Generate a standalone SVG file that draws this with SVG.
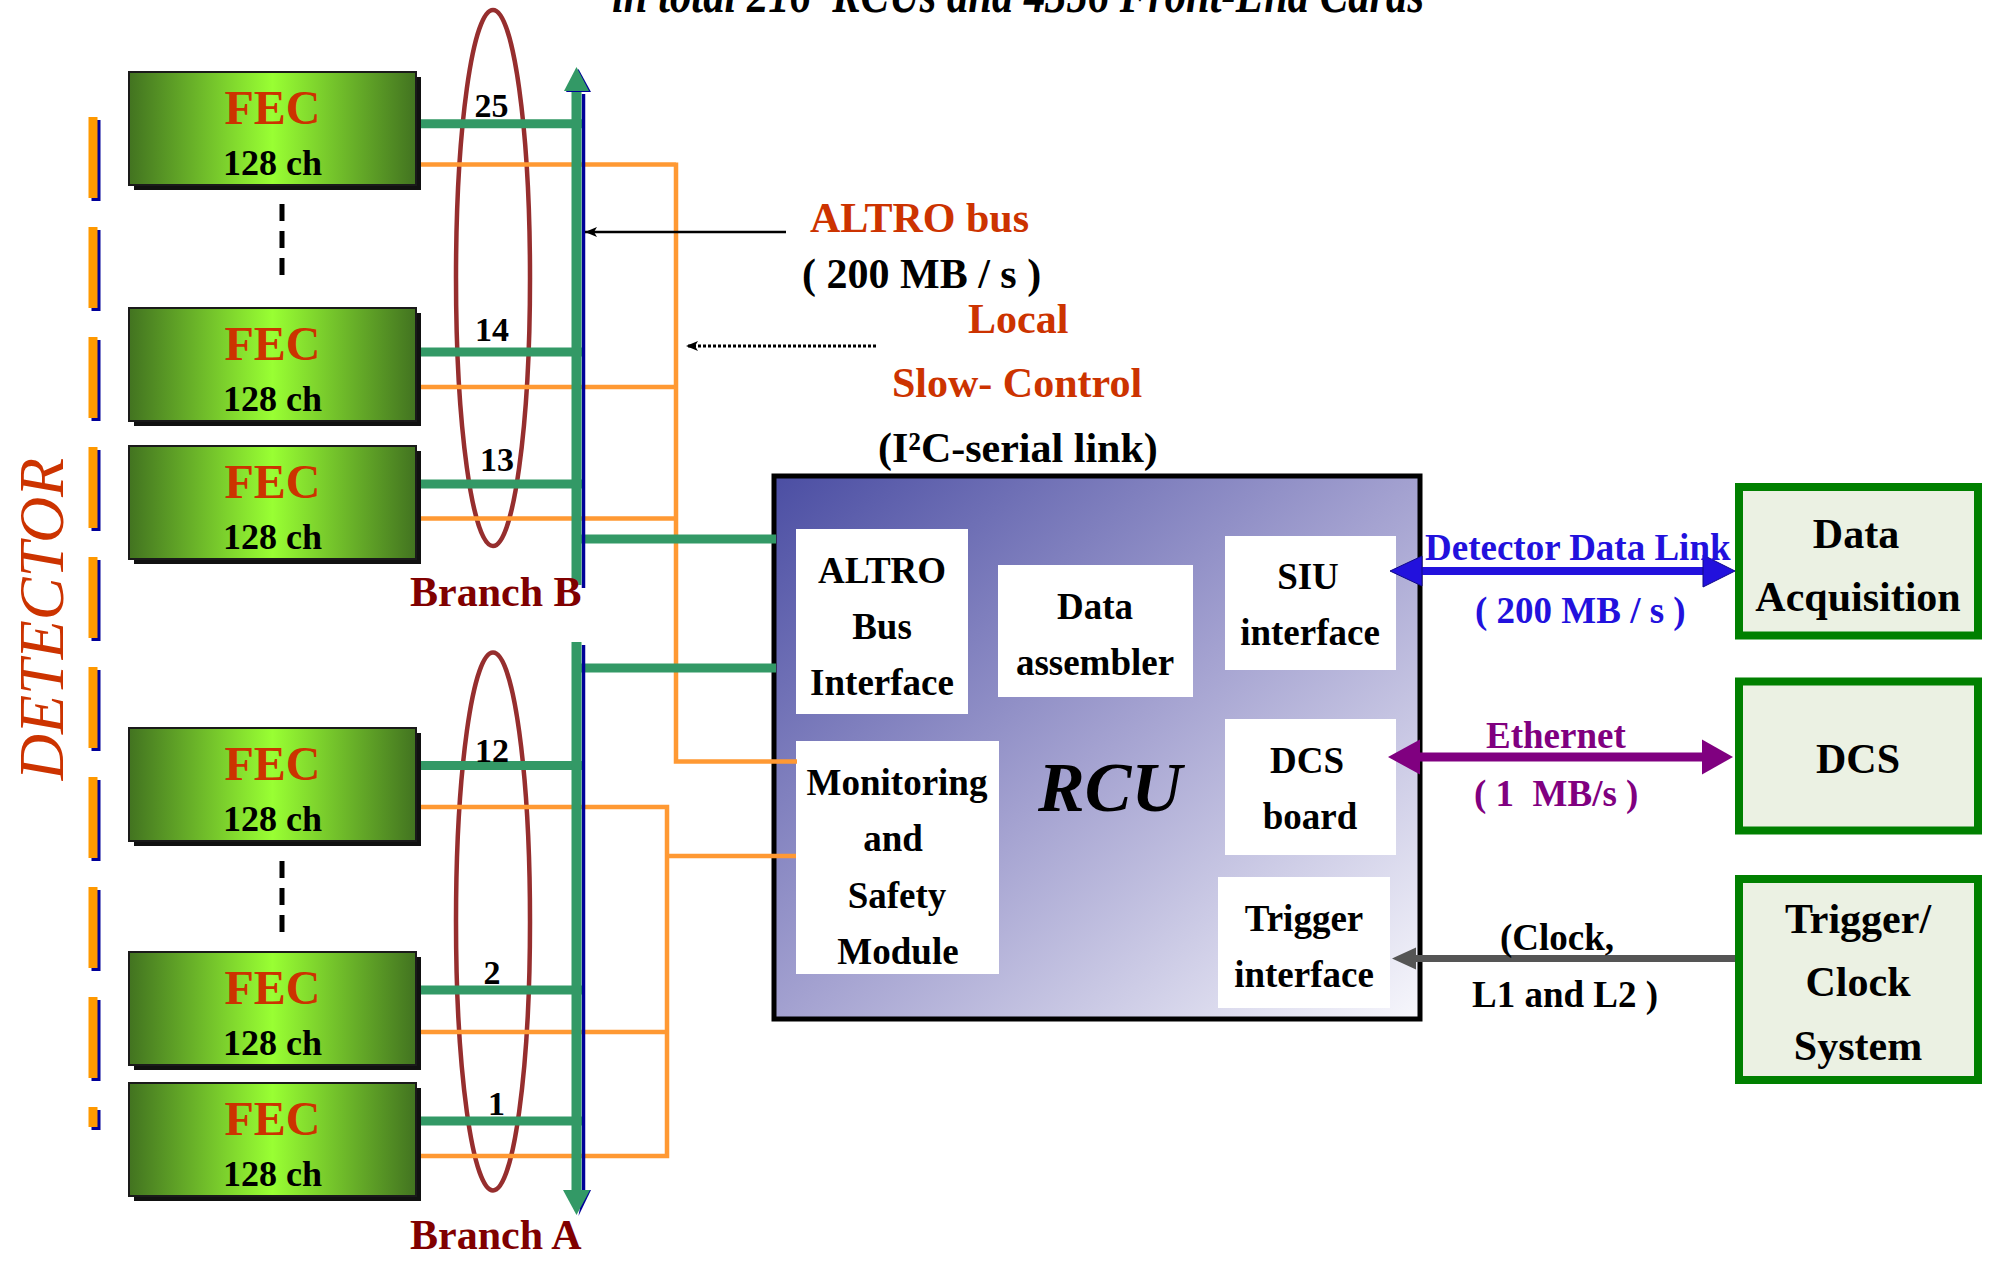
<svg xmlns="http://www.w3.org/2000/svg" width="2000" height="1263" viewBox="0 0 2000 1263">
<defs>
  <linearGradient id="fecGrad" x1="0" y1="0" x2="1" y2="0">
    <stop offset="0" stop-color="#427320"/>
    <stop offset="0.5" stop-color="#99FF33"/>
    <stop offset="1" stop-color="#427320"/>
  </linearGradient>
  <linearGradient id="rcuGrad" x1="0" y1="0" x2="1" y2="1">
    <stop offset="0" stop-color="#4B4EA3"/>
    <stop offset="0.5" stop-color="#A3A1D0"/>
    <stop offset="1" stop-color="#F7F7FC"/>
  </linearGradient>
  <marker id="ahBlack" viewBox="0 0 12 10" refX="12" refY="5" markerWidth="13" markerHeight="10" markerUnits="userSpaceOnUse" orient="auto">
    <path d="M0,0 L12,5 L0,10 L3,5 z" fill="#000"/>
  </marker>
  <style>
    text { font-family: "Liberation Serif", "Times New Roman", serif; font-weight: bold; }
    .fec-shadow { fill: #111; }
    .fec-box { fill: url(#fecGrad); stroke: #1a1a1a; stroke-width: 2; }
    .t-fec { font-size: 48px; fill: #CC3300; text-anchor: middle; }
    .t-ch { font-size: 36px; fill: #000; text-anchor: middle; }
    .inner { fill: #FFFFFF; }
    .t-in { font-size: 37px; fill: #000; text-anchor: middle; }
    .sys { fill: #EBF1E3; stroke: #008000; stroke-width: 8; }
    .t-sys { font-size: 42px; fill: #000; text-anchor: middle; }
    .det-o { fill: #FF9900; }
    .det-b { fill: #000099; }
    .ell { fill: none; stroke: #962E2E; stroke-width: 4.5; }
    .g-line { stroke: #339966; stroke-width: 9; fill: none; }
    .o-line { stroke: #FF9933; stroke-width: 4.5; fill: none; }
    .bus-b { stroke: #000099; stroke-width: 3.5; fill: none; }
    .bus-g { stroke: #339966; stroke-width: 10; fill: none; }
    .num { font-size: 34px; fill: #000; text-anchor: middle; }
    .branch { font-size: 42px; fill: #800000; }
    .lbl-red { font-size: 42px; fill: #CC3300; }
    .lbl-blk { font-size: 42px; fill: #000; }
    .lbl37 { font-size: 37px; white-space: pre; }
  </style>
</defs>

<rect x="0" y="0" width="2000" height="1263" fill="#FFFFFF"/>

<!-- title (cut off at the top) -->
<text x="612" y="12" font-size="52" font-style="italic" textLength="812" lengthAdjust="spacingAndGlyphs" style="white-space:pre" fill="#000">in total 216  RCUs and 4356 Front-End Cards</text>

<!-- DETECTOR label and side marks -->
<g id="detector">
  <text x="63" y="619" font-size="64" font-style="italic" font-weight="normal" fill="#CC3300" text-anchor="middle" transform="rotate(-90 63 619)" style="font-weight:normal">DETECTOR</text>
  <g>
    <rect class="det-b" x="91.5" y="120" width="9" height="81"/><rect class="det-o" x="88.5" y="117" width="9" height="81"/>
    <rect class="det-b" x="91.5" y="230" width="9" height="81"/><rect class="det-o" x="88.5" y="227" width="9" height="81"/>
    <rect class="det-b" x="91.5" y="340" width="9" height="81"/><rect class="det-o" x="88.5" y="337" width="9" height="81"/>
    <rect class="det-b" x="91.5" y="450" width="9" height="81"/><rect class="det-o" x="88.5" y="447" width="9" height="81"/>
    <rect class="det-b" x="91.5" y="560" width="9" height="81"/><rect class="det-o" x="88.5" y="557" width="9" height="81"/>
    <rect class="det-b" x="91.5" y="670" width="9" height="81"/><rect class="det-o" x="88.5" y="667" width="9" height="81"/>
    <rect class="det-b" x="91.5" y="780" width="9" height="81"/><rect class="det-o" x="88.5" y="777" width="9" height="81"/>
    <rect class="det-b" x="91.5" y="890" width="9" height="81"/><rect class="det-o" x="88.5" y="887" width="9" height="81"/>
    <rect class="det-b" x="91.5" y="1000" width="9" height="81"/><rect class="det-o" x="88.5" y="997" width="9" height="81"/>
    <rect class="det-b" x="91.5" y="1110" width="9" height="20"/><rect class="det-o" x="88.5" y="1107" width="9" height="20"/>
  </g>
</g>

<!-- ellipses grouping the FEC links -->
<g id="branch-b-group">
  <ellipse class="ell" cx="493" cy="278" rx="37" ry="268"/>
</g>
<g id="branch-a-group">
  <ellipse class="ell" cx="493" cy="921.5" rx="37" ry="269"/>
</g>

<!-- RCU -->
<g id="rcu">
  <rect x="774" y="476" width="646" height="543" fill="url(#rcuGrad)" stroke="#000" stroke-width="5"/>
  <text x="1110" y="811" font-size="70" font-style="italic" fill="#000" text-anchor="middle">RCU</text>
</g>
<g id="altro-bus-interface">
  <rect class="inner" x="796" y="529" width="172" height="185"/>
  <text class="t-in" x="882" y="583">ALTRO</text>
  <text class="t-in" x="882" y="639">Bus</text>
  <text class="t-in" x="882" y="695">Interface</text>
</g>
<g id="data-assembler">
  <rect class="inner" x="998" y="565" width="195" height="132"/>
  <text class="t-in" x="1095" y="619">Data</text>
  <text class="t-in" x="1095" y="675">assembler</text>
</g>
<g id="siu-interface">
  <rect class="inner" x="1225" y="536" width="171" height="134"/>
  <text class="t-in" x="1308" y="589">SIU</text>
  <text class="t-in" x="1310" y="645">interface</text>
</g>
<g id="monitoring-safety">
  <rect class="inner" x="796" y="741" width="203" height="233"/>
  <text class="t-in" x="897" y="795">Monitoring</text>
  <text class="t-in" x="893" y="851">and</text>
  <text class="t-in" x="897" y="908">Safety</text>
  <text class="t-in" x="898" y="964">Module</text>
</g>
<g id="dcs-board">
  <rect class="inner" x="1225" y="719" width="171" height="136"/>
  <text class="t-in" x="1307" y="773">DCS</text>
  <text class="t-in" x="1310" y="829">board</text>
</g>
<g id="trigger-interface">
  <rect class="inner" x="1218" y="877" width="172" height="131"/>
  <text class="t-in" x="1304" y="931">Trigger</text>
  <text class="t-in" x="1304" y="987">interface</text>
</g>

<!-- connectors -->
<g id="connectors">
  <!-- orange slow-control lines, branch B -->
  <path class="o-line" d="M416,164.6 H676 M416,387 H676 M416,518.5 H676 M676,162.4 V761.5 H797"/>
  <!-- orange slow-control lines, branch A -->
  <path class="o-line" d="M416,807 H667 M416,1032 H667 M416,1156 H667 M667,804.8 V1158.2 M667,856 H796"/>
  <!-- green FEC links -->
  <path class="g-line" d="M416,123.8 H583 M416,352 H583 M416,484 H583 M416,765.6 H583 M416,990 H583 M416,1121 H583"/>
  <!-- green bus to RCU -->
  <path class="g-line" d="M581,539 H776 M581,668 H776"/>
  <!-- branch B bus (arrow up) -->
  <line class="bus-b" x1="583.5" y1="94" x2="583.5" y2="588"/>
  <line class="bus-g" x1="576.5" y1="89" x2="576.5" y2="585"/>
  <polygon points="566,92 578.5,69 591,92" fill="#000099"/>
  <polygon points="564,91 576.5,67 589,91" fill="#339966"/>
  <!-- branch A bus (arrow down) -->
  <line class="bus-b" x1="583.5" y1="645" x2="583.5" y2="1192"/>
  <line class="bus-g" x1="576.5" y1="642" x2="576.5" y2="1192"/>
  <polygon points="591,1190 578.5,1216 583,1190" fill="#000099"/>
  <polygon points="563,1190 576.5,1215 590,1190" fill="#339966"/>
  <!-- ALTRO bus pointer -->
  <line x1="786" y1="232" x2="585" y2="232" stroke="#000" stroke-width="2.5" marker-end="url(#ahBlack)"/>
  <!-- slow-control pointer -->
  <line x1="876" y1="346" x2="686" y2="346" stroke="#000" stroke-width="3" stroke-dasharray="3 2" marker-end="url(#ahBlack)"/>
  <!-- Detector Data Link -->
  <line x1="1420" y1="571" x2="1705" y2="571" stroke="#2211DD" stroke-width="8"/>
  <polygon points="1390,571 1422,556 1422,586" fill="#2211DD" stroke="#100888" stroke-width="1"/>
  <polygon points="1735,571 1703,555 1703,587" fill="#2211DD" stroke="#100888" stroke-width="1"/>
  <!-- Ethernet -->
  <line x1="1418" y1="757" x2="1704" y2="757" stroke="#800080" stroke-width="9"/>
  <polygon points="1388,757 1420,739.5 1420,774.5" fill="#800080"/>
  <polygon points="1733,757 1702,739.5 1702,774.5" fill="#800080"/>
  <!-- Clock / triggers -->
  <line x1="1735" y1="958.5" x2="1414" y2="958.5" stroke="#555555" stroke-width="7"/>
  <polygon points="1392,958.5 1416,947.5 1416,969.5" fill="#555555"/>
</g>

<!-- FEC cards -->
<g id="fec-25">
  <rect class="fec-shadow" x="134" y="77" width="287" height="113"/>
  <rect class="fec-box" x="129" y="72" width="287" height="113"/>
  <text class="t-fec" x="272.5" y="123.5">FEC</text>
  <text class="t-ch" x="272.5" y="175">128 ch</text>
</g>
<g id="fec-14">
  <rect class="fec-shadow" x="134" y="313" width="287" height="113"/>
  <rect class="fec-box" x="129" y="308" width="287" height="113"/>
  <text class="t-fec" x="272.5" y="359.5">FEC</text>
  <text class="t-ch" x="272.5" y="411">128 ch</text>
</g>
<g id="fec-13">
  <rect class="fec-shadow" x="134" y="451" width="287" height="113"/>
  <rect class="fec-box" x="129" y="446" width="287" height="113"/>
  <text class="t-fec" x="272.5" y="497.5">FEC</text>
  <text class="t-ch" x="272.5" y="549">128 ch</text>
</g>
<g id="fec-12">
  <rect class="fec-shadow" x="134" y="733" width="287" height="113"/>
  <rect class="fec-box" x="129" y="728" width="287" height="113"/>
  <text class="t-fec" x="272.5" y="779.5">FEC</text>
  <text class="t-ch" x="272.5" y="831">128 ch</text>
</g>
<g id="fec-2">
  <rect class="fec-shadow" x="134" y="957" width="287" height="113"/>
  <rect class="fec-box" x="129" y="952" width="287" height="113"/>
  <text class="t-fec" x="272.5" y="1003.5">FEC</text>
  <text class="t-ch" x="272.5" y="1055">128 ch</text>
</g>
<g id="fec-1">
  <rect class="fec-shadow" x="134" y="1088" width="287" height="113"/>
  <rect class="fec-box" x="129" y="1083" width="287" height="113"/>
  <text class="t-fec" x="272.5" y="1134.5">FEC</text>
  <text class="t-ch" x="272.5" y="1186">128 ch</text>
</g>

<!-- continuation dots between FECs -->
<g id="ellipsis-marks">
  <line x1="282" y1="204" x2="282" y2="277" stroke="#000" stroke-width="5" stroke-dasharray="17 10"/>
  <line x1="282" y1="861" x2="282" y2="934" stroke="#000" stroke-width="5" stroke-dasharray="17 10"/>
</g>

<!-- FEC numbers -->
<g id="fec-numbers">
  <text class="num" x="491.5" y="117">25</text>
  <text class="num" x="492" y="341">14</text>
  <text class="num" x="497" y="470.5">13</text>
  <text class="num" x="492" y="761.5">12</text>
  <text class="num" x="492" y="984">2</text>
  <text class="num" x="496.5" y="1115">1</text>
</g>

<!-- branch labels -->
<text class="branch" x="410" y="606">Branch B</text>
<text class="branch" x="410" y="1249">Branch A</text>

<!-- bus labels -->
<text class="lbl-red" x="810" y="232">ALTRO bus</text>
<text class="lbl-blk" x="802" y="288" style="white-space:pre">( 200 MB / s )</text>
<text class="lbl-red" x="968" y="333">Local</text>
<text class="lbl-red" x="892" y="397">Slow- Control</text>
<text class="lbl-blk" x="878" y="462">(I²C-serial link)</text>

<!-- link labels -->
<text class="lbl37" x="1425" y="560" fill="#2211DD">Detector Data Link</text>
<text class="lbl37" x="1475" y="623" fill="#2211DD">( 200 MB / s )</text>
<text class="lbl37" x="1486" y="747.5" fill="#800080">Ethernet</text>
<text class="lbl37" x="1474" y="806" fill="#800080">( 1  MB/s )</text>
<text class="lbl37" x="1500" y="949.5" fill="#000">(Clock,</text>
<text class="lbl37" x="1472" y="1007" fill="#000">L1 and L2 )</text>

<!-- external systems -->
<g id="data-acquisition">
  <rect class="sys" x="1739" y="487" width="239" height="148.5"/>
  <text class="t-sys" x="1856" y="548">Data</text>
  <text class="t-sys" x="1858" y="611">Acquisition</text>
</g>
<g id="dcs">
  <rect class="sys" x="1739" y="681.5" width="239" height="149"/>
  <text class="t-sys" x="1858" y="773">DCS</text>
</g>
<g id="trigger-clock-system">
  <rect class="sys" x="1739" y="879" width="239" height="201"/>
  <text class="t-sys" x="1858" y="932.5">Trigger/</text>
  <text class="t-sys" x="1858" y="996">Clock</text>
  <text class="t-sys" x="1858" y="1060">System</text>
</g>
</svg>
